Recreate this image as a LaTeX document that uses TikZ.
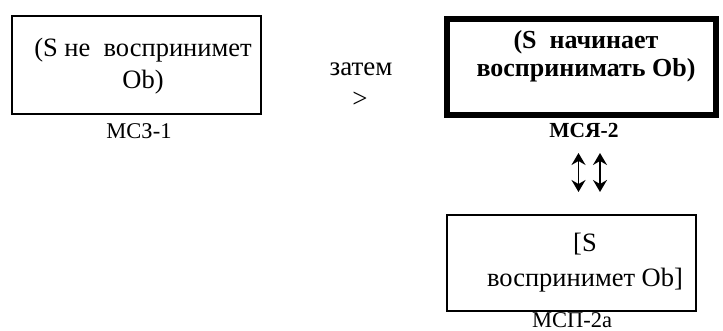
\documentclass[tikz,border=0pt]{standalone}
\usepackage{fontspec}
\setmainfont{Liberation Serif}
\usetikzlibrary{arrows.meta}
\begin{document}
\begin{tikzpicture}[x=1pt,y=-1pt,
  boxtext/.style={align=center,inner sep=0pt},
  plainbox/.style={draw,line width=1.3pt,inner sep=0pt},
  boldbox/.style={draw,line width=6pt,inner sep=0pt},
  caption/.style={anchor=base,inner sep=0pt,font=\fontsize{22.5}{24}\selectfont},
  twoway/.style={line width=1.5pt,{Stealth[length=12pt,width=14pt,inset=4pt]}-{Stealth[length=12pt,width=14pt,inset=4pt]}}]
\useasboundingbox (0,0) rectangle (723,331);
% state boxes
\node[plainbox,minimum width=249,minimum height=98] (b1) at (136.5,65) {};
\node[boxtext,font=\fontsize{26.5}{32}\selectfont] (t1) at (143,66) {(S не\ \ воспринимет\\Ob)};
\node[caption] (c1) at (139,139) {МСЗ-1};

\node[boldbox,minimum width=269,minimum height=96] (b2) at (581.5,67) {};
\node[boxtext,font=\fontsize{26}{28}\selectfont\bfseries] (t2) at (586,56) {(S\ \ начинает\\воспринимать Ob)};
\node[caption,font=\fontsize{21.5}{24}\selectfont\bfseries] (c2) at (584,138) {МСЯ-2};

\node[plainbox,minimum width=249,minimum height=96] (b3) at (571.5,263) {};
\node[boxtext,font=\fontsize{26.5}{35}\selectfont] (t3) at (585,263) {[S\\воспринимет Ob]};
\node[caption] (c3) at (572,327) {МСП-2а};

% transition between the states
\node[font=\fontsize{27}{30}\selectfont,anchor=base] (then) at (361,76) {затем};
\node[font=\fontsize{27}{30}\selectfont] (gt) at (360,100) {>};

% two-way link between МСЯ-2 and МСП-2а
\coordinate (u1) at (578.5,153);
\coordinate (d1) at (578.5,192);
\coordinate (u2) at (600,153);
\coordinate (d2) at (600,192);
\draw[twoway] (u1) -- (d1);
\draw[twoway] (u2) -- (d2);
\end{tikzpicture}
\end{document}
